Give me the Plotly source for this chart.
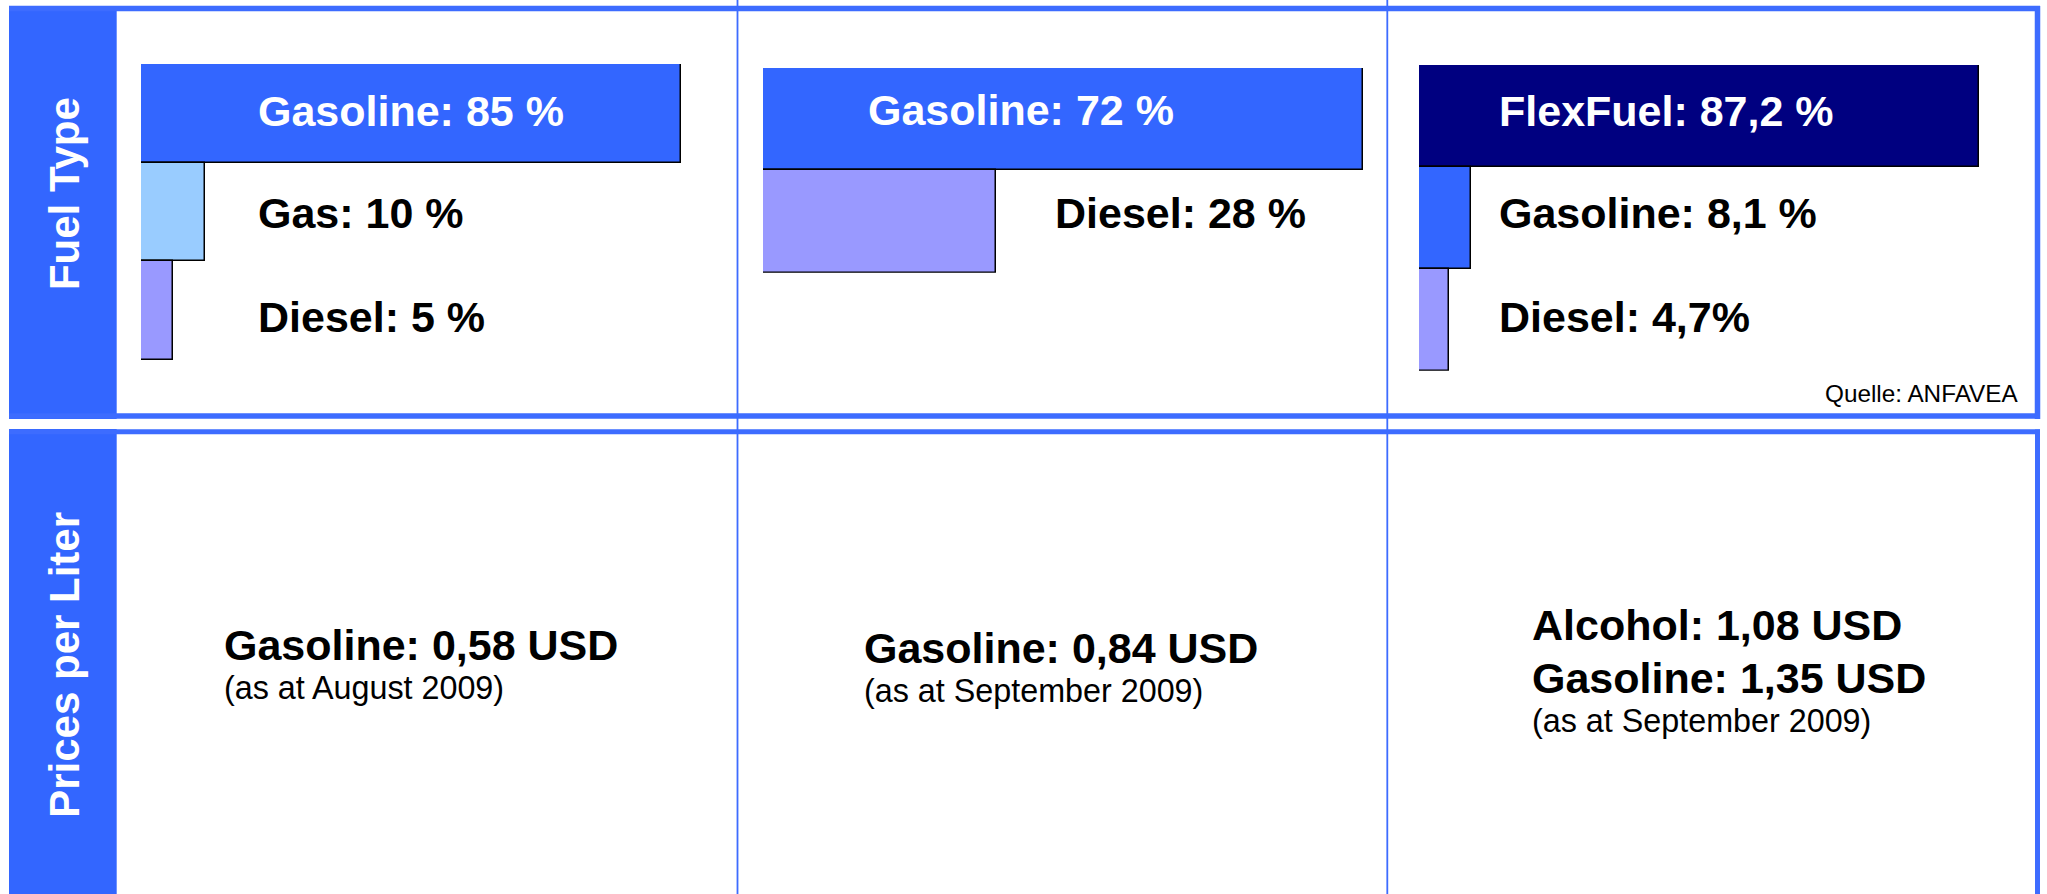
import plotly.graph_objects as go

W, H = 2047, 894

# ---------------- data ----------------
row_titles = ["Fuel Type", "Prices per Liter"]

fuel_cats_1 = ["Gasoline", "Gas", "Diesel"]
fuel_vals_1 = [85, 10, 5]
fuel_labels_1 = ["Gasoline: 85 %", "Gas: 10 %", "Diesel: 5 %"]

fuel_cats_2 = ["Gasoline", "Diesel"]
fuel_vals_2 = [72, 28]
fuel_labels_2 = ["Gasoline: 72 %", "Diesel: 28 %"]

fuel_cats_3 = ["FlexFuel", "Gasoline", "Diesel"]
fuel_vals_3 = [87.2, 8.1, 4.7]
fuel_labels_3 = ["FlexFuel: 87,2 %", "Gasoline: 8,1 %", "Diesel: 4,7%"]

price_lines_1 = ["Gasoline: 0,58 USD"]
price_note_1 = "(as at August 2009)"
price_lines_2 = ["Gasoline: 0,84 USD"]
price_note_2 = "(as at September 2009)"
price_lines_3 = ["Alcohol: 1,08 USD", "Gasoline: 1,35 USD"]
price_note_3 = "(as at September 2009)"

source_text = "Quelle: ANFAVEA"

# ---------------- styles ----------------
FONT = "Liberation Sans, Arial, Helvetica, sans-serif"
BLUE = "#3366FF"
LINE_BLUE = "#3D6CFF"
BOLD_SIZE = 43
NOTE_SIZE = 32.3
fuel_colors = {"Gasoline": "#3366FF", "Gas": "#99CCFF", "Diesel": "#9999FF", "FlexFuel": "#000080"}


def fx(px):
    return px / W


def fy(py):
    return 1 - py / H


# panel layout (pixels): x origin, px per %, axis max, y top, y bottom, label x, label y centres, label colors
panels = [
    dict(cats=fuel_cats_1, vals=fuel_vals_1, labels=fuel_labels_1,
         x0=141, ppu=6.35, rmax=90, ytop=64, ybot=360,
         lx=[256, 256, 256], ly=[111.1, 213.4, 317.4], lc=["white", "black", "black"]),
    dict(cats=fuel_cats_2, vals=fuel_vals_2, labels=fuel_labels_2,
         x0=763, ppu=8.33, rmax=74, ytop=68, ybot=272.7,
         lx=[866, 1053], ly=[110.5, 213.4], lc=["white", "black"]),
    dict(cats=fuel_cats_3, vals=fuel_vals_3, labels=fuel_labels_3,
         x0=1419, ppu=6.42, rmax=95, ytop=65, ybot=370.7,
         lx=[1497, 1497, 1497], ly=[111.1, 213.4, 317.4], lc=["white", "black", "black"]),
]

fig = go.Figure()
annotations = []
layout_axes = {}

for i, p in enumerate(panels, start=1):
    sfx = "" if i == 1 else str(i)
    fig.add_trace(go.Bar(
        y=p["cats"], x=p["vals"], orientation="h",
        marker=dict(color=[fuel_colors[c] for c in p["cats"]],
                    line=dict(color="black", width=1.5)),
        xaxis="x" + sfx, yaxis="y" + sfx, showlegend=False, hoverinfo="x+y",
    ))
    layout_axes["xaxis" + sfx] = dict(
        domain=[fx(p["x0"]), fx(p["x0"] + p["rmax"] * p["ppu"])],
        range=[0, p["rmax"]], visible=False, fixedrange=True,
        anchor="y" + sfx,
    )
    n = len(p["cats"])
    layout_axes["yaxis" + sfx] = dict(
        domain=[fy(p["ybot"]), fy(p["ytop"])],
        type="category", categoryorder="array", categoryarray=p["cats"],
        range=[n - 0.5, -0.5], visible=False, fixedrange=True,
        anchor="x" + sfx,
    )
    for txt, x, y, c in zip(p["labels"], p["lx"], p["ly"], p["lc"]):
        annotations.append(dict(
            text="<b>" + txt + "</b>", x=fx(x), y=fy(y), xref="paper", yref="paper",
            xanchor="left", yanchor="middle", showarrow=False,
            font=dict(family=FONT, size=BOLD_SIZE, color=c),
        ))

# source
annotations.append(dict(
    text=source_text, x=fx(2019.5), y=fy(393.4), xref="paper", yref="paper",
    xanchor="right", yanchor="middle", showarrow=False,
    font=dict(family=FONT, size=24.3, color="black"),
))

# row titles in the blue bands
for txt, yc in zip(row_titles, [193.3, 665]):
    annotations.append(dict(
        text="<b>" + txt + "</b>", x=fx(63.8), y=fy(yc), xref="paper", yref="paper",
        xanchor="center", yanchor="middle", textangle=-90, showarrow=False,
        font=dict(family=FONT, size=42, color="white"),
    ))

# price texts
price_blocks = [
    (price_lines_1, price_note_1, 222, [644.5], 688.0),
    (price_lines_2, price_note_2, 862, [647.5], 691.0),
    (price_lines_3, price_note_3, 1530, [625.2, 677.5], 721.1),
]
for lines, note, x, ys, ny in price_blocks:
    for txt, y in zip(lines, ys):
        annotations.append(dict(
            text="<b>" + txt + "</b>", x=fx(x), y=fy(y), xref="paper", yref="paper",
            xanchor="left", yanchor="middle", showarrow=False,
            font=dict(family=FONT, size=BOLD_SIZE, color="black"),
        ))
    annotations.append(dict(
        text=note, x=fx(x), y=fy(ny), xref="paper", yref="paper",
        xanchor="left", yanchor="middle", showarrow=False,
        font=dict(family=FONT, size=NOTE_SIZE, color="black"),
    ))

# frame shapes
shapes = []
# blue title bands
shapes.append(dict(type="rect", xref="paper", yref="paper", x0=fx(9), x1=fx(116.7),
                   y0=fy(419), y1=fy(6), fillcolor=BLUE, line=dict(width=0), layer="below"))
shapes.append(dict(type="rect", xref="paper", yref="paper", x0=fx(9), x1=fx(116.7),
                   y0=fy(H + 5), y1=fy(429), fillcolor=BLUE, line=dict(width=0), layer="below"))
# row 1 border
for (xa, ya, xb, yb) in [(9, 8.5, 2040, 8.5), (9, 416, 2040, 416), (2037.5, 6, 2037.5, 419)]:
    shapes.append(dict(type="line", xref="paper", yref="paper", x0=fx(xa), y0=fy(ya),
                       x1=fx(xb), y1=fy(yb), line=dict(color=LINE_BLUE, width=5.5)))
# row 2 border
for (xa, ya, xb, yb) in [(9, 431.7, 2040, 431.7), (2037.5, 429.5, 2037.5, H + 5)]:
    shapes.append(dict(type="line", xref="paper", yref="paper", x0=fx(xa), y0=fy(ya),
                       x1=fx(xb), y1=fy(yb), line=dict(color=LINE_BLUE, width=5)))
# thin column separators
for xc in [737.5, 1387.3]:
    shapes.append(dict(type="line", xref="paper", yref="paper", x0=fx(xc), y0=fy(-5),
                       x1=fx(xc), y1=fy(H + 5), line=dict(color=LINE_BLUE, width=1.8)))

fig.update_layout(
    width=W, height=H, margin=dict(l=0, r=0, t=0, b=0),
    paper_bgcolor="white", plot_bgcolor="rgba(0,0,0,0)",
    bargap=0, showlegend=False,
    annotations=annotations, shapes=shapes,
    **layout_axes,
)

fig.write_html(
    "out.html",
    config={"displayModeBar": False},
    post_script="document.body.style.margin='0';document.body.style.overflow='hidden';",
)
